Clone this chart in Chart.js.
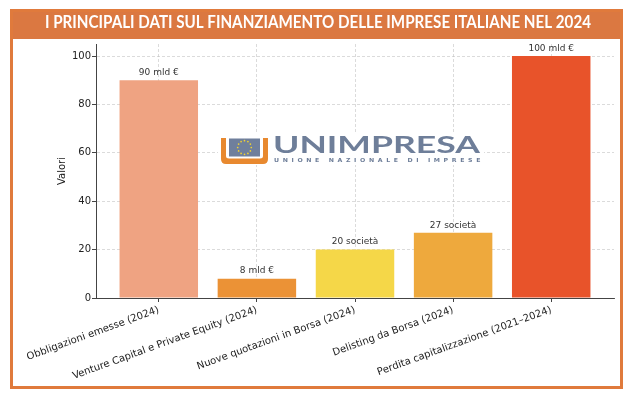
<!DOCTYPE html>
<html>
<head>
<meta charset="utf-8">
<script src="https://cdn.jsdelivr.net/npm/chart.js@4/dist/chart.umd.min.js"></script>
<style>
html,body{margin:0;padding:0;background:#fff;}
#c{display:block;}
</style>
</head>
<body>
<canvas id="c" width="640" height="398"></canvas>
<script>
// ---- data ----
const titleText = "I PRINCIPALI DATI SUL FINANZIAMENTO DELLE IMPRESE ITALIANE NEL 2024";
const categories = [
  "Obbligazioni emesse (2024)",
  "Venture Capital e Private Equity (2024)",
  "Nuove quotazioni in Borsa (2024)",
  "Delisting da Borsa (2024)",
  "Perdita capitalizzazione (2021\u20132024)"
];
const values = [90, 8, 20, 27, 100];
const valueLabels = ["90 mld \u20ac", "8 mld \u20ac", "20 societ\u00e0", "27 societ\u00e0", "100 mld \u20ac"];
const yTicks = [0, 20, 40, 60, 80, 100];
const yAxisTitle = "Valori";
const barColors = ["#EFA382", "#EB9236", "#F5D748", "#EEA93D", "#E8532A"];

const ORANGE = "#DB7841";

const framePlugin = {
  id: "frame",
  beforeDraw(chart) {
    const ctx = chart.ctx;
    ctx.save();
    ctx.fillStyle = "#fff";
    ctx.fillRect(0, 0, chart.width, chart.height);
    // title band
    ctx.fillStyle = ORANGE;
    ctx.fillRect(10, 9, 613, 30);
    ctx.fillStyle = "#fff";
    ctx.font = "bold 16.5px Lato";
    ctx.textAlign = "center";
    ctx.textBaseline = "middle";
    const tw = ctx.measureText(titleText).width;
    ctx.translate(318, 23);
    ctx.scale(546 / tw, 1);
    ctx.fillText(titleText, 0, 0);
    ctx.restore();
  },
  afterDraw(chart) {
    const ctx = chart.ctx;
    ctx.save();
    ctx.strokeStyle = "#E07A3C";
    ctx.lineWidth = 3;
    ctx.strokeRect(11.5, 10.5, 610, 377);
    ctx.restore();
  }
};

const logoPlugin = {
  id: "logo",
  afterDraw(chart) {
    const ctx = chart.ctx;
    ctx.save();
    ctx.fillStyle = "#fff";
    ctx.fillRect(218, 134, 266, 31);
    // orange U
    ctx.fillStyle = "#E8892F";
    ctx.beginPath();
    ctx.moveTo(221, 138);
    ctx.lineTo(226, 138);
    ctx.lineTo(226, 156);
    ctx.quadraticCurveTo(226, 158.5, 229, 158.5);
    ctx.lineTo(260, 158.5);
    ctx.quadraticCurveTo(263, 158.5, 263, 156);
    ctx.lineTo(263, 138);
    ctx.lineTo(268, 138);
    ctx.lineTo(268, 159);
    ctx.quadraticCurveTo(268, 164, 263, 164);
    ctx.lineTo(226, 164);
    ctx.quadraticCurveTo(221, 164, 221, 159);
    ctx.closePath();
    ctx.fill();
    // blue panel
    ctx.fillStyle = "#6F7F9C";
    ctx.fillRect(229, 138.5, 31, 18);
    // stars
    ctx.fillStyle = "#F2D230";
    for (let k = 0; k < 12; k++) {
      const a = k * Math.PI / 6;
      ctx.beginPath();
      ctx.arc(244.5 + 6.8 * Math.cos(a), 147.5 + 6.8 * Math.sin(a), 0.85, 0, Math.PI * 2);
      ctx.fill();
    }
    // UNIMPRESA
    ctx.fillStyle = "#6E7E99";
    ctx.font = "bold 22px Lato";
    ctx.textBaseline = "alphabetic";
    ctx.textAlign = "left";
    const w1 = ctx.measureText("UNIMPRESA").width;
    ctx.save();
    ctx.translate(273, 153);
    ctx.scale(207 / w1, 1);
    ctx.fillText("UNIMPRESA", 0, 0);
    ctx.restore();
    // subtitle
    ctx.font = "bold 5.5px 'DejaVu Sans'";
    ctx.letterSpacing = "3.2px";
    const sub = "UNIONE NAZIONALE DI IMPRESE";
    const w2 = ctx.measureText(sub).width;
    ctx.save();
    ctx.translate(274, 162);
    ctx.scale(Math.min(1.2, 210 / w2), 1);
    ctx.fillText(sub, 0, 0);
    ctx.restore();
    ctx.restore();
  }
};

const valueLabelPlugin = {
  id: "valueLabels",
  afterDatasetsDraw(chart) {
    const ctx = chart.ctx;
    const meta = chart.getDatasetMeta(0);
    ctx.save();
    ctx.fillStyle = "#333";
    ctx.font = "9px 'DejaVu Sans'";
    ctx.textAlign = "center";
    ctx.textBaseline = "bottom";
    meta.data.forEach((bar, i) => {
      ctx.fillText(valueLabels[i], bar.x, bar.y - 3);
    });
    ctx.restore();
  }
};

const gridCommon = {
  color: "rgba(190,190,190,0.7)",
  lineWidth: 0.8,
  tickLength: 4,
  tickColor: "#444",
  tickWidth: 1,
  tickBorderDash: [],
  offset: false
};

new Chart(document.getElementById("c"), {
  type: "bar",
  data: {
    datasets: [{
      data: values.map((v, i) => ({ x: i, y: v })),
      backgroundColor: barColors,
      borderWidth: 0,
      categoryPercentage: 1,
      barPercentage: 0.8
    }]
  },
  options: {
    responsive: false,
    animation: false,
    devicePixelRatio: 1,
    layout: { padding: { left: 0, right: 26, top: 44, bottom: 0 } },
    plugins: { legend: { display: false }, tooltip: { enabled: false } },
    scales: {
      x: {
        type: "linear",
        offset: false,
        min: -0.64,
        max: 4.64,
        z: 1,
        afterBuildTicks: s => { s.ticks = categories.map((_, i) => ({ value: i })); },
        afterFit: s => { s.height = 100; },
        ticks: {
          autoSkip: false,
          minRotation: 20,
          maxRotation: 20,
          padding: 2,
          color: "#222",
          font: { family: "DejaVu Sans", size: 10 },
          callback: v => categories[v]
        },
        grid: gridCommon,
        border: { display: true, color: "#444", width: 1, dash: [3, 2] }
      },
      y: {
        min: 0,
        max: 105,
        z: 1,
        afterBuildTicks: s => { s.ticks = yTicks.map(v => ({ value: v })); },
        afterFit: s => { s.width = 96; },
        ticks: {
          padding: 1,
          color: "#222",
          font: { family: "DejaVu Sans", size: 10 }
        },
        title: {
          display: true,
          text: yAxisTitle,
          color: "#222",
          font: { family: "DejaVu Sans", size: 10 },
          padding: { top: 56, bottom: 0 }
        },
        grid: gridCommon,
        border: { display: true, color: "#444", width: 1, dash: [3, 2] }
      }
    }
  },
  plugins: [framePlugin, logoPlugin, valueLabelPlugin]
});
</script>
</body>
</html>
